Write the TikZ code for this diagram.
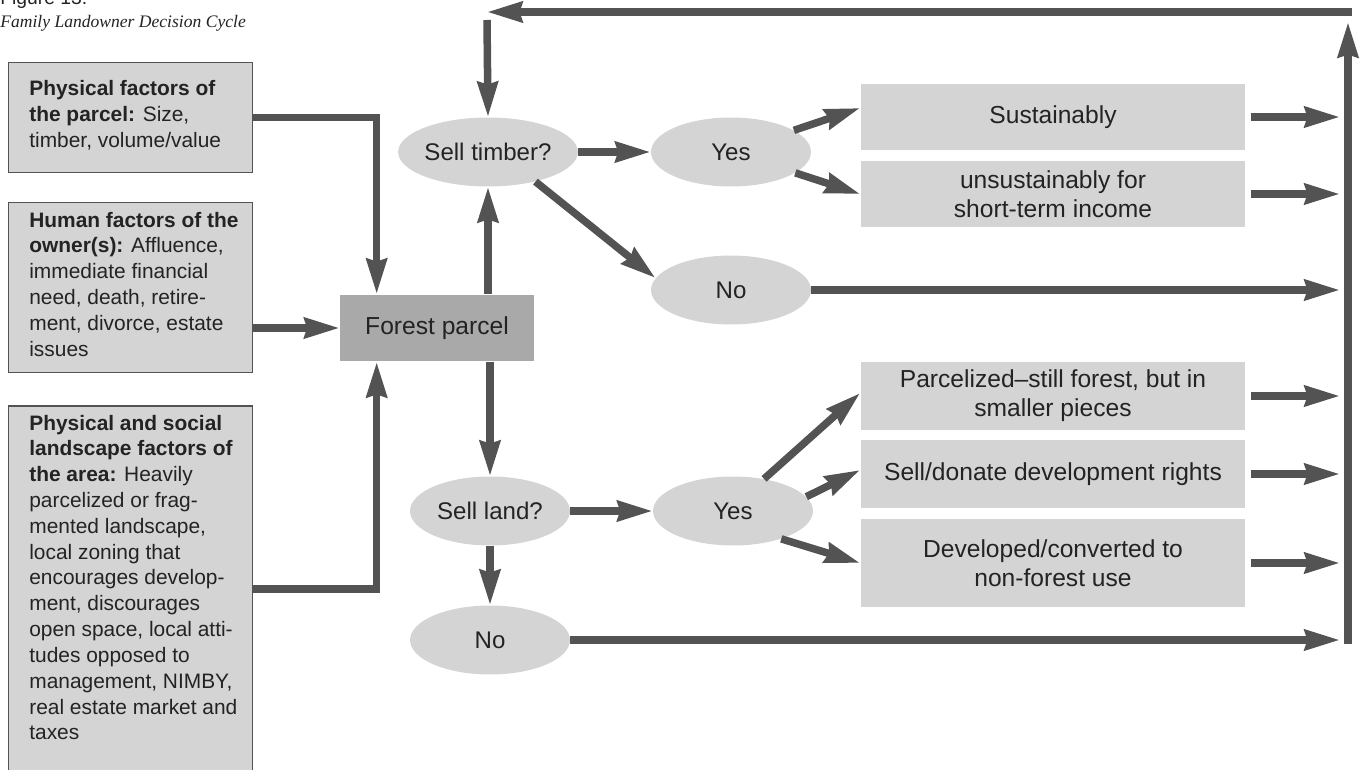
\documentclass[tikz,border=0pt]{standalone}
\usepackage{fontspec}
\setmainfont{Liberation Sans}
\newfontfamily\titlefont{Liberation Serif}
\usetikzlibrary{positioning,shapes.geometric,arrows.meta}

\definecolor{boxgray}{HTML}{D4D4D4}
\definecolor{parcelgray}{HTML}{A9A9A9}
\definecolor{linegray}{HTML}{535353}
\definecolor{inkgray}{HTML}{232323}

\tikzset{
  flow/.style={draw=linegray, line width=1.5mm, -{Stealth[length=7mm,width=4mm,inset=0.5mm]}},
  factor/.style={draw=linegray, fill=boxgray, line width=0.3mm, minimum width=4.88cm, anchor=north west, inner sep=0pt},
  factortext/.style={align=left, inner sep=0pt, text=inkgray, font=\fontsize{11.9}{14.7}\selectfont},
  choice/.style={ellipse, fill=boxgray, minimum width=3.2cm, minimum height=1.38cm, inner sep=0pt, text=inkgray, font=\fontsize{13.7}{16}\selectfont},
  outcome/.style={fill=boxgray, minimum width=7.7cm, inner sep=0pt, align=center, text=inkgray, font=\fontsize{14}{16.5}\selectfont}
}

\begin{document}
\begin{tikzpicture}[x=0.02cm, y=-0.02cm]
  \useasboundingbox (0,0) rectangle (1362,770);
  % caption
  \node [anchor=base west, inner sep=0pt, text=inkgray, font=\fontsize{11}{13}\selectfont] (figno) at (0,5) {Figure 13.};
  \node [anchor=base west, inner sep=0pt, text=inkgray, font=\titlefont\itshape\fontsize{10}{12}\selectfont] (figtitle) at (0,28) {Family Landowner Decision Cycle};

  % factor boxes
  \node [factor, minimum height=2.2cm] (physical) at (8,62) {};
  \node [factortext, below right=0.36cm and 0.42cm of physical.north west] (physicaltext)
    {\textbf{Physical factors of}\\\textbf{the parcel:} Size,\\timber, volume/value};
  \node [factor, minimum height=3.4cm] (owners) at (8,202) {};
  \node [factortext, below right=0.19cm and 0.42cm of owners.north west] (ownerstext)
    {\textbf{Human factors of the}\\\textbf{owner(s):} Affluence,\\immediate financial\\need, death, retire-\\ment, divorce, estate\\issues};
  \node [factor, minimum height=7.34cm] (landscape) at (8,405) {};
  \node [factortext, below right=0.19cm and 0.42cm of landscape.north west] (landscapetext)
    {\textbf{Physical and social}\\\textbf{landscape factors of}\\\textbf{the area:} Heavily\\parcelized or frag-\\mented landscape,\\local zoning that\\encourages develop-\\ment, discourages\\open space, local atti-\\tudes opposed to\\management, NIMBY,\\real estate market and\\taxes};

  % decisions
  \node [fill=parcelgray, minimum width=3.88cm, minimum height=1.34cm, text=inkgray, font=\fontsize{14}{16}\selectfont] (parcel) at (437,328) {Forest parcel};
  \node [choice] (timber) at (488,152) {Sell timber?};
  \node [choice] (timberyes) at (731,152) {Yes};
  \node [choice] (timberno) at (731,290) {No};
  \node [choice] (land) at (490,511) {Sell land?};
  \node [choice] (landyes) at (733,511) {Yes};
  \node [choice] (landno) at (490,640) {No};

  % outcomes
  \node [outcome, minimum height=1.32cm] (sustain) at (1053,117) {Sustainably};
  \node [outcome, minimum height=1.34cm] (unsustain) at (1053,194) {unsustainably for\\short-term income};
  \node [outcome, minimum height=1.36cm] (parcelized) at (1053,396) {Parcelized–still forest, but in\\smaller pieces};
  \node [outcome, minimum height=1.36cm] (rights) at (1053,474) {Sell/donate development rights};
  \node [outcome, minimum height=1.78cm] (developed) at (1053,563) {Developed/converted to\\non-forest use};

  % loop points
  \coordinate (tipx) at (1340,0);
  \coordinate (railbottom) at (1348,644);
  \coordinate (railtop) at (1348,22);
  \coordinate (returnright) at (1352,12);
  \coordinate (returnleft) at (487,12);
  \coordinate (reentry) at (487,20);

  % into the parcel
  \draw [flow] (physical.east) -| ([xshift=0.74cm]parcel.north west);
  \draw [flow] (owners.east |- parcel.west) -- (parcel.west);
  \draw [flow] (landscape.east) -| ([xshift=0.74cm]parcel.south west);
  \draw [flow] (parcel.north -| timber.south) -- (timber.south);
  \draw [flow] (parcel.south -| land.north) -- (land.north);

  % timber branch
  \draw [flow] (timber) -- (timberyes);
  \draw [flow] (timber.-32) -- (timberno.171);
  \draw [flow] (timberyes.19) -- ([yshift=0.18cm]sustain.west);
  \draw [flow] (timberyes.-18) -- (unsustain.west);

  % land branch
  \draw [flow] (land) -- (landyes);
  \draw [flow] (land) -- (landno);
  \draw [flow] (landyes.46) -- ([yshift=0.06cm]parcelized.west);
  \draw [flow] (landyes.11) -- ([yshift=0.08cm]rights.west);
  \draw [flow] (landyes.-30) -- (developed.west);

  % back to the rail
  \foreach \outc in {sustain, unsustain, parcelized, rights, developed}
    \draw [flow] ([xshift=0.1cm]\outc.east) -- (\outc.east -| tipx);
  \draw [flow] (timberno.east) -- (timberno.east -| tipx);
  \draw [flow] (landno.east) -- (landno.east -| tipx);
  \draw [flow] (railbottom) -- (railtop);
  \draw [flow] (returnright) -- (returnleft);
  \draw [flow] (reentry) -- (timber.north);
\end{tikzpicture}
\end{document}
